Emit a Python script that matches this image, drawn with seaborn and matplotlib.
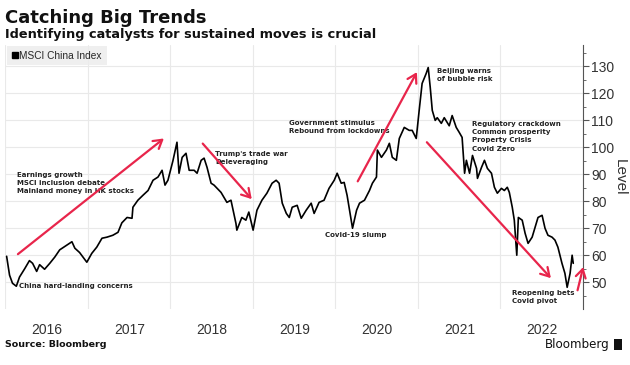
import pandas as pd
import matplotlib.pyplot as plt
import matplotlib.dates as mdates
from matplotlib.lines import Line2D
from matplotlib.patches import Rectangle
import seaborn as sns

sns.set_theme(style='white')
plt.rcParams['font.family'] = ['DejaVu Sans']
NARROW = ['Liberation Sans Narrow', 'Liberation Sans', 'DejaVu Sans']

# MSCI China Index
dates = ['2016-01-08', '2016-01-21', '2016-02-03', '2016-02-20', '2016-03-05', '2016-03-28',
         '2016-04-18', '2016-05-02', '2016-05-20', '2016-06-02', '2016-06-24', '2016-07-17',
         '2016-08-08', '2016-08-30', '2016-09-30', '2016-10-23', '2016-11-05', '2016-11-26',
         '2016-12-28', '2017-01-19', '2017-02-10', '2017-03-05', '2017-03-27', '2017-04-22',
         '2017-05-15', '2017-06-01', '2017-06-24', '2017-07-16', '2017-07-20', '2017-08-11',
         '2017-09-02', '2017-09-25', '2017-10-17', '2017-11-08', '2017-11-26', '2017-12-09',
         '2017-12-22', '2018-01-13', '2018-01-31', '2018-02-09', '2018-02-23', '2018-03-12',
         '2018-03-26', '2018-04-17', '2018-04-30', '2018-05-18', '2018-05-31', '2018-06-13',
         '2018-07-01', '2018-07-14', '2018-08-14', '2018-09-09', '2018-09-27', '2018-10-19',
         '2018-10-23', '2018-11-14', '2018-12-02', '2018-12-15', '2019-01-03', '2019-01-20',
         '2019-02-11', '2019-03-05', '2019-03-28', '2019-04-15', '2019-04-28', '2019-05-12',
         '2019-05-30', '2019-06-12', '2019-06-25', '2019-07-17', '2019-08-04', '2019-08-26',
         '2019-09-17', '2019-09-30', '2019-10-22', '2019-11-13', '2019-12-05', '2019-12-28',
         '2020-01-10', '2020-01-28', '2020-02-10', '2020-02-23', '2020-03-12', '2020-03-18',
         '2020-04-05', '2020-04-18', '2020-05-10', '2020-06-01', '2020-06-14', '2020-07-02',
         '2020-07-06', '2020-07-24', '2020-08-15', '2020-08-28', '2020-09-10', '2020-09-28',
         '2020-10-11', '2020-11-02', '2020-11-24', '2020-12-07', '2020-12-25', '2021-01-07',
         '2021-01-20', '2021-02-07', '2021-02-16', '2021-02-25', '2021-03-06', '2021-03-19',
         '2021-03-28', '2021-04-15', '2021-04-28', '2021-05-20', '2021-06-02', '2021-06-20',
         '2021-07-03', '2021-07-16', '2021-07-27', '2021-08-04', '2021-08-18', '2021-08-31',
         '2021-09-18', '2021-09-22', '2021-10-10', '2021-10-23', '2021-11-05', '2021-11-23',
         '2021-12-06', '2021-12-19', '2022-01-06', '2022-01-19', '2022-02-01', '2022-02-10',
         '2022-02-23', '2022-03-04', '2022-03-15', '2022-03-22', '2022-04-08', '2022-04-21',
         '2022-05-04', '2022-05-22', '2022-06-04', '2022-06-17', '2022-07-05', '2022-07-18',
         '2022-07-31', '2022-08-18', '2022-08-31', '2022-09-13', '2022-10-01', '2022-10-14',
         '2022-10-24', '2022-11-06', '2022-11-15', '2022-11-20']
levels = [59.6, 52.6, 49.6, 48.5, 51.9, 55.0, 58.0, 57.0, 54.0, 56.5, 54.8, 57.0,
          59.3, 62.0, 63.7, 65.0, 62.6, 61.0, 57.4, 60.7, 63.0, 66.3, 66.7, 67.4,
          68.5, 72.0, 74.0, 73.7, 77.8, 80.4, 82.2, 84.0, 87.8, 89.0, 91.5, 86.0,
          87.8, 95.0, 101.9, 90.4, 96.3, 97.8, 91.5, 91.5, 90.4, 95.2, 96.0, 92.6,
          86.7, 86.0, 83.3, 79.6, 80.4, 71.8, 69.3, 74.0, 73.0, 76.0, 69.3, 76.7,
          80.4, 83.0, 86.7, 87.8, 86.7, 79.3, 75.5, 74.0, 77.8, 78.5, 73.7, 76.7,
          79.3, 75.5, 79.6, 80.4, 84.8, 87.8, 90.4, 86.7, 87.0, 82.2, 73.0, 70.0,
          76.7, 79.3, 80.4, 84.0, 86.7, 89.0, 99.0, 96.3, 99.0, 101.5, 96.3, 95.2,
          103.3, 107.4, 106.3, 106.3, 103.3, 113.7, 123.7, 127.4, 129.6, 122.2, 113.7, 110.0,
          111.0, 108.9, 111.0, 108.0, 111.8, 107.4, 105.6, 103.7, 90.4, 95.2, 90.4, 97.0,
          92.2, 88.5, 92.6, 95.2, 92.2, 90.4, 85.2, 83.0, 84.8, 84.0, 85.2, 83.3,
          77.8, 73.0, 60.0, 74.0, 73.0, 68.1, 64.4, 66.7, 70.4, 74.0, 74.8, 70.0,
          67.4, 66.7, 65.6, 63.0, 57.0, 53.3, 48.1, 53.3, 60.0, 57.0]

year_labels = ['2016', '2017', '2018', '2019', '2020', '2021', '2022']
y_ticks = [50, 60, 70, 80, 90, 100, 110, 120, 130]

# annotations: text, anchor date, anchor level (vertical centre of the block)
notes = [
    ('Earnings growth\nMSCI inclusion debate\nMainland money in HK stocks', '2016-02-23', 86.8),
    ('China hard-landing concerns', '2016-03-01', 48.5),
    ("Trump's trade war\nDeleveraging", '2018-07-20', 96.1),
    ('Government stimulus\nRebound from lockdowns', '2019-06-11', 107.5),
    ('Covid-19 slump', '2019-11-15', 67.4),
    ('Beijing warns\nof bubble risk', '2021-03-26', 126.9),
    ('Regulatory crackdown\nCommon prosperity\nProperty Crisis\nCovid Zero', '2021-08-30', 104.1),
    ('Reopening bets\nCovid pivot', '2022-02-20', 44.5),
]
# red trend arrows: start date, start level, end date, end level
arrows = [
    ('2016-02-27', 60.4, '2017-12-04', 103.3),
    ('2018-05-25', 101.4, '2018-12-28', 80.8),
    ('2020-04-10', 87.4, '2020-12-28', 127.9),
    ('2021-02-10', 101.9, '2022-08-13', 51.5),
    ('2022-12-09', 47.0, '2023-01-03', 55.6),
]

df = pd.DataFrame({'date': pd.to_datetime(dates), 'level': levels})

fig = plt.figure(figsize=(6.3, 3.65), dpi=100)
ax = fig.add_axes([0.008, 0.153, 0.917, 0.724])

sns.lineplot(data=df, x='date', y='level', color='black', lw=1.2, ax=ax)

ax.set_xlim(pd.Timestamp('2016-01-01'), pd.Timestamp('2023-01-01'))
ax.set_ylim(40, 138)

# x axis: gridlines at year starts, labels mid-year
ax.xaxis.set_major_locator(mdates.YearLocator())
ax.xaxis.set_major_formatter(plt.NullFormatter())
ax.set_xticks(pd.to_datetime([y + '-07-04' for y in year_labels]), labels=year_labels, minor=True)
ax.tick_params(axis='x', which='both', length=0, pad=10, labelcolor='#333333')
for lab in ax.get_xticklabels(minor=True):
    lab.set_fontfamily(NARROW)
    lab.set_fontsize(10)

ax.yaxis.tick_right()
ax.yaxis.set_label_position('right')
ax.set_yticks(y_ticks)
ax.set_yticks([v + 5 for v in [40] + y_ticks], minor=True)
ax.tick_params(axis='y', which='major', length=4, width=0.8, color='#555555',
               labelcolor='#333333', pad=2)
ax.tick_params(axis='y', which='minor', length=2, width=0.6, color='#555555')
for lab in ax.get_yticklabels():
    lab.set_fontfamily(NARROW)
    lab.set_fontsize(10)
ax.set_ylabel('Level', fontsize=11, color='#333333', rotation=270, labelpad=9,
              family=NARROW)
ax.set_xlabel('')

ax.grid(True, which='major', color='#e9e9e9', lw=0.8)
for s in ['left', 'top', 'bottom']:
    ax.spines[s].set_visible(False)
ax.spines['right'].set_color('#555555')
ax.spines['right'].set_linewidth(0.8)

for text, d, v in notes:
    ax.text(pd.Timestamp(d), v, text, fontsize=5.0, fontweight='bold', color='#222222',
            va='center', ha='left', linespacing=1.45)

for d0, v0, d1, v1 in arrows:
    ax.annotate('', xy=(pd.Timestamp(d1), v1), xytext=(pd.Timestamp(d0), v0),
                annotation_clip=False,
                arrowprops=dict(arrowstyle='->,head_length=0.5,head_width=0.3',
                                color='#e8254b', lw=1.6, shrinkA=0, shrinkB=0))

leg = ax.legend(handles=[Line2D([], [], marker='s', color='black', ls='', ms=4)],
                labels=['MSCI China Index'], loc='upper left', bbox_to_anchor=(0.003, 0.995),
                frameon=True, fancybox=False, prop={'family': NARROW, 'size': 7.3},
                handletextpad=0.1, borderpad=0.45, borderaxespad=0, handlelength=0.7)
leg.get_frame().set_facecolor('#ececec')
leg.get_frame().set_edgecolor('none')

fig.text(0.008, 0.975, 'Catching Big Trends', fontsize=13, fontweight='bold',
         color='#111111', va='top', ha='left')
fig.text(0.008, 0.922, 'Identifying catalysts for sustained moves is crucial', fontsize=9.3,
         fontweight='bold', color='#111111', va='top', ha='left')
fig.text(0.008, 0.055, 'Source: Bloomberg', fontsize=6.8, fontweight='bold',
         color='#111111', va='center', ha='left')
fig.text(0.968, 0.055, 'Bloomberg', fontsize=8.6, color='#111111', va='center', ha='right')
fig.patches.append(Rectangle((0.974, 0.04), 0.014, 0.032, transform=fig.transFigure,
                             facecolor='#111111', edgecolor='none'))

fig.savefig('out.png', dpi=100, facecolor='white')
